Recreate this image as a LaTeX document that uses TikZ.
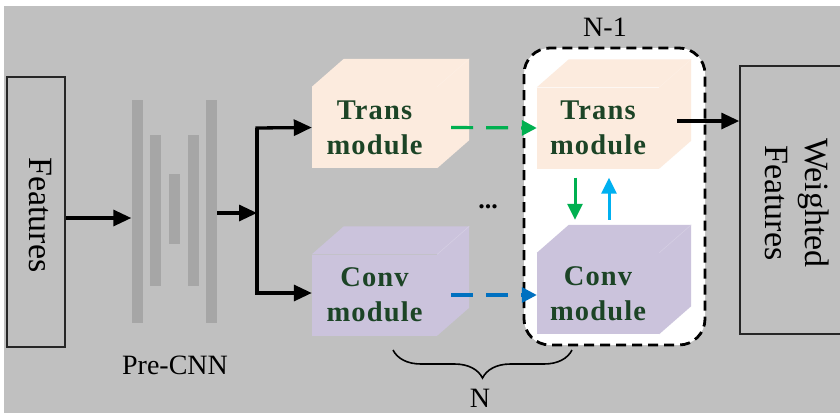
\documentclass[tikz,border=0pt]{standalone}
\usepackage{fontspec}
\setmainfont{Liberation Serif}
\usetikzlibrary{arrows.meta,decorations.pathreplacing,calc}
\definecolor{bggray}{RGB}{192,192,192}
\definecolor{bargray}{RGB}{166,166,166}
\definecolor{peach}{RGB}{252,235,222}
\definecolor{lav}{RGB}{203,195,220}
\definecolor{txtgreen}{RGB}{28,68,38}
\definecolor{agreen}{RGB}{0,176,80}
\definecolor{ablue}{RGB}{0,112,192}
\definecolor{acyan}{RGB}{0,176,240}
\newcommand\cubefaces[2]{%
  \fill[#2] (#1.north west) -- ++(32,-28) -- ($(#1.north east)+(32,-28)$) -- ($(#1.south east)+(32,-28)$) -- (#1.south east) -- (#1.north east) -- cycle;
  \draw[#2!80!white, line width=0.6pt] (#1.north east) -- ++(32,-28);
}
\begin{document}
\begin{tikzpicture}[x=1pt,y=-1pt,
  box/.style={draw=black!85, line width=1.5pt, inner sep=0pt},
  bigtxt/.style={font=\fontsize{34}{40}\selectfont},
  lbl/.style={font=\fontsize{28}{32}\selectfont},
  bar/.style={fill=bargray, inner sep=0pt, minimum width=11pt},
  modtxt/.style={font=\fontsize{28.5}{35}\selectfont\bfseries\addfontfeature{LetterSpace=4}, text=txtgreen, align=center, inner sep=0pt},
  front/.style={modtxt, minimum width=125pt, minimum height=81pt},
  blk/.style={line width=3.3pt, -{Triangle[length=18pt,width=16pt]}},
  dsh/.style={line width=3.2pt, dash pattern=on 22pt off 13pt, -{Triangle[length=15pt,width=15pt]}},
  vert/.style={line width=3pt, -{Triangle[length=16pt,width=15pt]}},
]
\useasboundingbox (0,0) rectangle (840,413);
\fill[white] (0,0) rectangle (840,413);
\fill[bggray] (4,6) rectangle (840,413);
\clip (0,0) rectangle (840,413);

% Features
\node[box, minimum width=58pt, minimum height=270pt] (feat) at (36,212) {};
\node[bigtxt, rotate=-90] (feattxt) at (40,215) {Features};

% Pre-CNN bars
\node[bar, minimum height=223pt] (b1) at (137,211.5) {};
\node[bar, minimum height=151pt] (b2) at (155.5,210.5) {};
\node[bar, minimum height=70pt] (b3) at (174,209) {};
\node[bar, minimum height=151pt] (b4) at (193.5,210.5) {};
\node[bar, minimum height=223pt] (b5) at (211.5,211.5) {};
\node[lbl] (pre) at (175,365) {Pre-CNN};

\draw[blk] (feat.east |- 0,218) -- (b1.west |- 0,218);
\coordinate (br) at (257,213);
\draw[blk] (b5.east |- br) -- (br);

% dashed group
\draw[line width=2.8pt, dash pattern=on 10pt off 6pt, rounded corners=26pt, fill=white] (524,48) rectangle (705,345);
\node[lbl] (nm1) at (605,27) {N-1};

% cubes
\node[front, fill=peach] (t1) at (374.5,127.5) {Trans\\module};
\cubefaces{t1}{peach}
\node[front, fill=lav] (c1) at (374.5,295) {Conv\\module};
\cubefaces{c1}{lav}
\node[front, fill=peach, minimum width=122pt] (t2) at (598,128) {Trans\\module};
\cubefaces{t2}{peach}
\node[front, fill=lav, minimum width=122pt] (c2) at (598,293.5) {Conv\\module};
\cubefaces{c2}{lav}

\draw[line width=3.3pt, line join=miter] (257,128) -- (br) -- (257,293);
\draw[blk] (255.35,128) -- (t1.west);
\draw[blk] (255.35,293) -- (c1.west |- 0,293);

\draw[dsh, agreen] ($(t1.east)+(14,0)$) -- (t2.west);
\draw[dsh, ablue] ($(c1.east)+(14,0)$) -- (c2.west |- c1.east);

\node[font=\fontsize{26}{30}\selectfont\bfseries] (dots) at (488,207) {...};

\draw[vert, agreen] ($(t2.south)+(-23,9)$) -- ($(c2.north)+(-23,-33)$);
\draw[vert, acyan] ($(c2.north)+(11,-33)$) -- ($(t2.south)+(11,9)$);

% weighted features
\node[box, minimum width=114pt, minimum height=268pt] (wf) at (797,200) {};
\node[bigtxt, rotate=-90, align=center] (wftxt) at (797,203) {Weighted\\Features};
\draw[blk] (677,121) -- (wf.west |- 0,121);

% brace
\draw[line width=1.6pt, decorate, decoration={brace, amplitude=28pt, mirror}] (393,350) coordinate (bl) -- (572,350) coordinate (brr);
\node[lbl] (n) at (480,398) {N};
\end{tikzpicture}
\end{document}
